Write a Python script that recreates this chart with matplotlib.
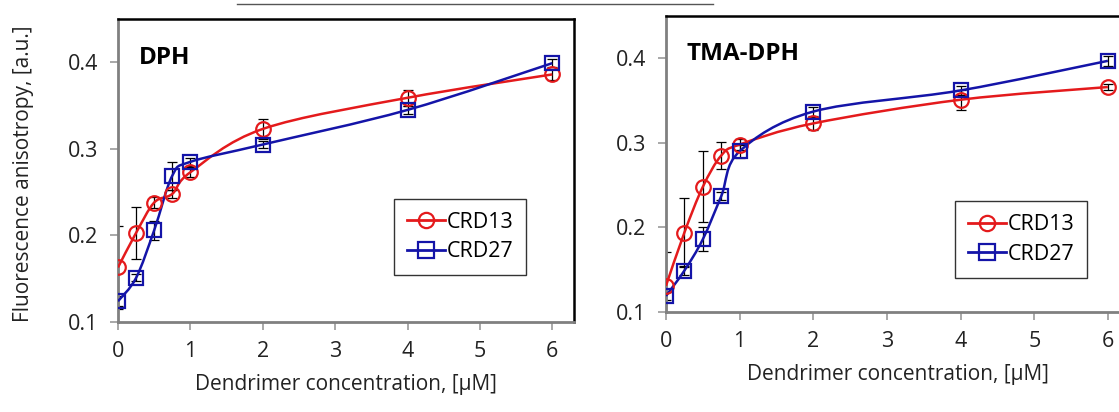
import numpy as np
import matplotlib
matplotlib.use("Agg")
import matplotlib.pyplot as plt
from matplotlib.path import Path
from matplotlib.patches import PathPatch
from matplotlib.lines import Line2D

# concentrations, uM
conc = [0, 0.25, 0.5, 0.75, 1, 2, 4, 6]

# DPH panel
dph_crd13 = [0.163, 0.203, 0.238, 0.248, 0.273, 0.323, 0.359, 0.386]
dph_crd13_err = [0.048, 0.030, 0.006, 0.005, 0.006, 0.012, 0.009, 0.006]
dph_crd27 = [0.124, 0.151, 0.206, 0.269, 0.285, 0.305, 0.345, 0.399]
dph_crd27_err = [0.006, 0.004, 0.011, 0.016, 0.005, 0.004, 0.005, 0.005]

# TMA-DPH panel
tma_crd13 = [0.131, 0.194, 0.248, 0.285, 0.298, 0.323, 0.351, 0.366]
tma_crd13_err = [0.040, 0.041, 0.042, 0.016, 0.006, 0.008, 0.012, 0.004]
tma_crd27 = [0.119, 0.149, 0.186, 0.237, 0.290, 0.337, 0.362, 0.397]
tma_crd27_err = [0.005, 0.005, 0.014, 0.005, 0.008, 0.005, 0.005, 0.006]

RED = "#e41a1c"
BLUE = "#1414a8"

plt.rcParams['font.family'] = ['Open Sans', 'DejaVu Sans']


def smooth_path(ax, x, y, color):
    # Excel-style smoothed line: Catmull-Rom drawn as cubic Bezier segments
    p = np.column_stack([x, y]).astype(float)
    pts = [p[0]]
    codes = [Path.MOVETO]
    n = len(p)
    for i in range(n - 1):
        p0 = p[i - 1] if i > 0 else p[i]
        p3 = p[i + 2] if i + 2 < n else p[i + 1]
        c1 = p[i] + (p[i + 1] - p0) / 6.0
        c2 = p[i + 1] - (p3 - p[i]) / 6.0
        pts += [c1, c2, p[i + 1]]
        codes += [Path.CURVE4] * 3
    ax.add_patch(PathPatch(Path(pts, codes), fc="none", ec=color, lw=1.8, zorder=3))


def panel(ax, y13, e13, y27, e27, title, leg_box):
    ax.errorbar(conc, y13, yerr=e13, fmt="none", ecolor="black", elinewidth=0.9,
                capsize=3.5, capthick=0.9, zorder=2)
    ax.errorbar(conc, y27, yerr=e27, fmt="none", ecolor="black", elinewidth=0.9,
                capsize=3.5, capthick=0.9, zorder=2)
    smooth_path(ax, conc, y13, RED)
    smooth_path(ax, conc, y27, BLUE)
    ax.plot(conc, y13, ls="none", marker="o", ms=10.5, mfc="none", mec=RED, mew=1.6, zorder=4)
    ax.plot(conc, y27, ls="none", marker="s", ms=10.5, mfc="none", mec=BLUE, mew=1.6, zorder=4)

    h13 = Line2D([], [], color=RED, lw=2.0, marker="o", ms=11, mfc="none", mec=RED, mew=1.6)
    h27 = Line2D([], [], color=BLUE, lw=2.0, marker="s", ms=11, mfc="none", mec=BLUE, mew=1.6)
    leg = ax.legend([h13, h27], ["CRD13", "CRD27"], loc="center",
                    bbox_to_anchor=leg_box, fontsize=15.5, frameon=True, fancybox=False,
                    handlelength=1.8, handletextpad=0.05, borderpad=0.6, labelspacing=0.4,
                    borderaxespad=0)
    leg.get_frame().set_edgecolor("black")
    leg.get_frame().set_linewidth(1.0)

    ax.set_xlim(0, 6.3)
    ax.set_ylim(0.1, 0.45)
    ax.set_xticks([0, 1, 2, 3, 4, 5, 6])
    ax.set_yticks([0.1, 0.2, 0.3, 0.4])
    ax.set_yticklabels(["0.1", "0.2", "0.3", "0.4"])
    ax.tick_params(direction="out", length=6, width=1.2, color="#999999",
                   labelsize=15.5, labelcolor="#222222", pad=8)
    for side in ["left", "bottom"]:
        ax.spines[side].set_color("#808080")
        ax.spines[side].set_linewidth(2.0)
    for side in ["top", "right"]:
        ax.spines[side].set_color("black")
        ax.spines[side].set_linewidth(1.8)
    ax.set_xlabel("Dendrimer concentration, [\u00b5M]", fontsize=15, color="#222222",
                  labelpad=8)
    ax.text(0.045, 0.87, title, transform=ax.transAxes, fontsize=17.5, fontweight="bold",
            ha="left", va="center")


fig = plt.figure(figsize=(11.19, 4.12), dpi=100)
ax1 = fig.add_axes([118 / 1119, 90 / 412, 456 / 1119, 303 / 412])
ax2 = fig.add_axes([666 / 1119, 100 / 412, 464 / 1119, 296 / 412])

panel(ax1, dph_crd13, dph_crd13_err, dph_crd27, dph_crd27_err, "DPH",
      (0.75, 0.28, 0.0, 0.0))
panel(ax2, tma_crd13, tma_crd13_err, tma_crd27, tma_crd27_err, "TMA-DPH",
      (0.765, 0.245, 0.0, 0.0))

ax1.set_ylabel("Fluorescence anisotropy, [a.u.]", fontsize=15, color="#222222")
ax1.yaxis.set_label_coords(-0.185, 0.49)

# stray rule at the top of the source image
fig.add_artist(Line2D([237 / 1119, 713 / 1119], [1 - 4 / 412, 1 - 4 / 412],
                      color="#555555", lw=1.0))

fig.savefig("out.png", dpi=100)
